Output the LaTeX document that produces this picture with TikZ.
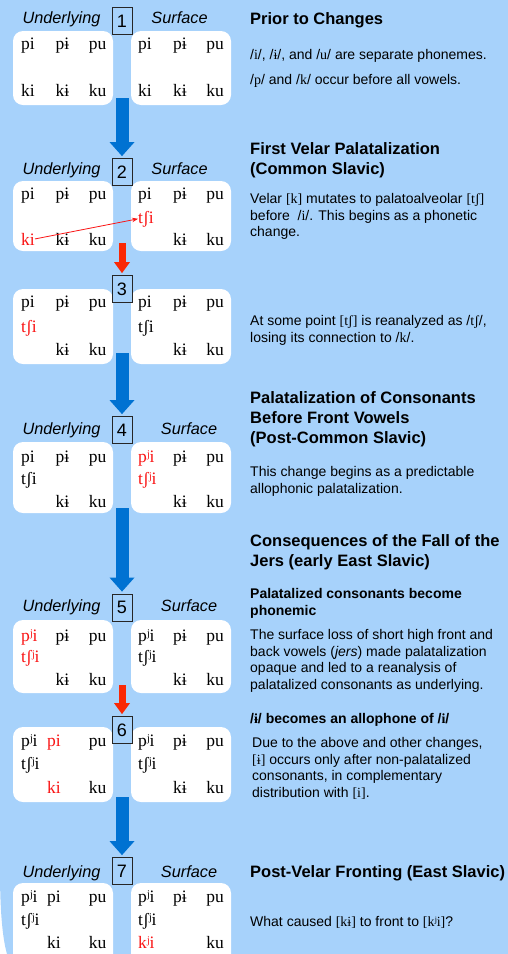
\documentclass[tikz,border=0pt]{standalone}
\usepackage{fontspec}
\setmainfont{Liberation Serif}
\setsansfont{Liberation Sans}
\newfontfamily\ipafont{Liberation Serif}
\usepackage{xcolor}
\usetikzlibrary{arrows.meta, positioning}

\definecolor{sky}{RGB}{167,210,251}
\definecolor{flowblue}{RGB}{0,114,210}
\definecolor{flowred}{RGB}{250,40,5}
\definecolor{hotred}{RGB}{250,20,20}

\newcommand{\ipa}[1]{{\ipafont #1}}

\begin{document}
\begin{tikzpicture}[x=1pt, y=-1pt,
  card/.style={fill=white, rounded corners=10pt},
  num/.style={draw=black!85, fill=sky, line width=0.8pt, minimum width=20pt, minimum height=27pt, inner sep=0pt, font=\sffamily\fontsize{18}{18}\selectfont},
  tag/.style={anchor=base, inner sep=0pt, font=\sffamily\itshape\fontsize{16.3}{16.3}\selectfont},
  ipa/.style={anchor=base, inner sep=0pt, font=\ipafont\fontsize{17.5}{17.5}\selectfont},
  first/.style={ipa, anchor=base west},
  head/.style={anchor=north west, inner sep=0pt, align=left, font=\sffamily\bfseries\fontsize{16.5}{20}\selectfont},
  subhead/.style={head, font=\sffamily\bfseries\fontsize{14}{17}\selectfont},
  body/.style={anchor=north west, inner sep=0pt, align=left, font=\sffamily\fontsize{14}{16.8}\selectfont},
  flow/.style={draw=flowblue, line width=13pt, -{Triangle[length=14pt, width=25pt, line width=0pt]}, shorten >=2pt},
  hotflow/.style={draw=flowred, line width=7pt, -{Triangle[length=11pt, width=16pt, line width=0pt]}, shorten >=2pt},
]
\useasboundingbox (0,0) rectangle (508,954);
\clip (0,0) rectangle (508,954);
\fill[sky] (0,0) -- (0,870) .. controls (0,915) and (3,940) .. (7,954) -- (508,954) -- (508,0) -- cycle;

% white cards, underlying left and surface right
\foreach \top/\bot in {31/105, 181/251, 289/364, 442/513, 620/693, 727/802, 883/970} {
    \fill[card] (13,\top) rectangle (113,\bot);
    \fill[card] (131,\top) rectangle (231,\bot);
}

% stage numbers and labels
\foreach \n/\y in {1/21, 2/172, 3/289, 4/430, 5/607.5, 6/730, 7/871}
    \node[num] (n\n) at (122,\y) {\n};
\foreach \n/\y/\s in {1/23/179.5, 2/174/179.5, 4/434/189, 5/611/189, 7/877/189} {
    \node[tag] (under\n) at (61.5,\y) {Underlying};
    \node[tag] (surf\n) at (\s,\y) {Surface};
}

% arrows between stages
\foreach \i/\y in {1/98, 2/243, 3/353, 4/508, 5/685, 6/797}
    \coordinate (s\i) at (122,\y);
\draw[flow] (s1) -- (n2.north);
\draw[hotflow] (s2) -- (n3.north);
\draw[flow] (s3) -- (n4.north);
\draw[flow] (s4) -- (n5.north);
\draw[hotflow] (s5) -- (n6.north);
\draw[flow] (s6) -- (n7.north);

% top row
\foreach \n/\y/\w/\col in {1/49/pi/black, 2/199/pi/black, 3/307/pi/black, 4/462/pi/black, 5/641/pʲi/hotred, 6/746/pʲi/black, 7/902/pʲi/black}
    \node[first, text=\col] (w\n-a1) at (21,\y) {\w};
\foreach \n/\y/\x/\w/\col in {1/49/62.5/pɨ/black, 2/199/62.5/pɨ/black, 3/307/62.5/pɨ/black, 4/462/62.5/pɨ/black, 5/641/62.5/pɨ/black, 6/746/54/pi/hotred, 7/902/54/pi/black}
    \node[ipa, text=\col] (w\n-a2) at (\x,\y) {\w};
\foreach \n/\y/\w/\col in {1/49/pi/black, 2/199/pi/black, 3/307/pi/black, 4/462/pʲi/hotred, 5/641/pʲi/black, 6/746/pʲi/black, 7/902/pʲi/black}
    \node[first, text=\col] (w\n-a4) at (138,\y) {\w};
\foreach \n/\y in {1/49, 2/199, 3/307, 4/462, 5/641, 6/746, 7/902} {
    \node[ipa] (w\n-a3) at (97.5,\y) {pu};
    \node[ipa] (w\n-a5) at (180,\y) {pɨ};
    \node[ipa] (w\n-a6) at (215,\y) {pu};
}

% middle row
\foreach \n/\y/\w/\col in {3/332/tʃi/hotred, 4/484/tʃi/black, 5/662/tʃʲi/hotred, 6/769/tʃʲi/black, 7/925/tʃʲi/black}
    \node[first, text=\col] (w\n-b1) at (21,\y) {\w};
\foreach \n/\y/\w/\col in {2/223/tʃi/hotred, 3/332/tʃi/black, 4/484/tʃʲi/hotred, 5/662/tʃʲi/black, 6/769/tʃʲi/black, 7/925/tʃʲi/black}
    \node[first, text=\col] (w\n-b4) at (138,\y) {\w};

% bottom row
\node[first] (w1-c1) at (21,96) {ki};
\node[first] (w1-c4) at (138,96) {ki};
\node[first, text=hotred] (w2-c1) at (21,245) {ki};
\node[first, text=hotred] (w7-c4) at (138,948) {kʲi};
\foreach \n/\y/\x/\w/\col in {1/96/62.5/kɨ/black, 2/245/62.5/kɨ/black, 3/355/62.5/kɨ/black, 4/507/62.5/kɨ/black, 5/685/62.5/kɨ/black, 6/793/54/ki/hotred, 7/948/54/ki/black}
    \node[ipa, text=\col] (w\n-c2) at (\x,\y) {\w};
\foreach \n/\y in {1/96, 2/245, 3/355, 4/507, 5/685, 6/793}
    \node[ipa] (w\n-c5) at (180,\y) {kɨ};
\foreach \n/\y in {1/96, 2/245, 3/355, 4/507, 5/685, 6/793, 7/948} {
    \node[ipa] (w\n-c3) at (97.5,\y) {ku};
    \node[ipa] (w\n-c6) at (215,\y) {ku};
}
\draw[hotred, line width=0.8pt, -{Stealth[length=6pt, width=4.5pt]}] (w2-c1.east) -- (w2-b4.west);

% notes
\node[head] (h1) at (250,12) {Prior to Changes};
\node[body] (b1) at (250,49.3) {/\ipa{i}/, /\ipa{ɨ}/, and /\ipa{u}/ are separate phonemes.};
\node[body] (b1b) at (250,74) {/\ipa{p}/ and /\ipa{k}/ occur before all vowels.};
\node[head] (h2) at (250,142) {First Velar Palatalization\\(Common Slavic)};
\node[body] (b2) at (250,193) {Velar \ipa{[k]} mutates to palatoalveolar \ipa{[tʃ]}\\before \ /\ipa{i}/. This begins as a phonetic\\change.};
\node[body] (b3) at (250,315) {At some point \ipa{[tʃ]} is reanalyzed as /\ipa{tʃ}/,\\losing its connection to /\ipa{k}/.};
\node[head] (h4) at (250,391) {Palatalization of Consonants\\Before Front Vowels\\(Post-Common Slavic)};
\node[body] (b4) at (250,466) {This change begins as a predictable\\allophonic palatalization.};
\node[head] (h5) at (250,534) {Consequences of the Fall of the\\Jers (early East Slavic)};
\node[subhead] (h5a) at (250,588) {Palatalized consonants become\\phonemic};
\node[body] (b5a) at (250,629) {The surface loss of short high front and\\back vowels (\textit{jers}) made palatalization\\opaque and led to a reanalysis of\\palatalized consonants as underlying.};
\node[subhead] (h5b) at (250,713) {/\ipa{ɨ}/ becomes an allophone of /\ipa{i}/};
\node[body] (b5b) at (252,737) {Due to the above and other changes,\\\ipa{[ɨ]} occurs only after non-palatalized\\consonants, in complementary\\distribution with \ipa{[i]}.};
\node[head] (h7) at (250,865) {Post-Velar Fronting (East Slavic)};
\node[body] (b7) at (250,916) {What caused \ipa{[kɨ]} to front to \ipa{[kʲi]}?};
\end{tikzpicture}
\end{document}
